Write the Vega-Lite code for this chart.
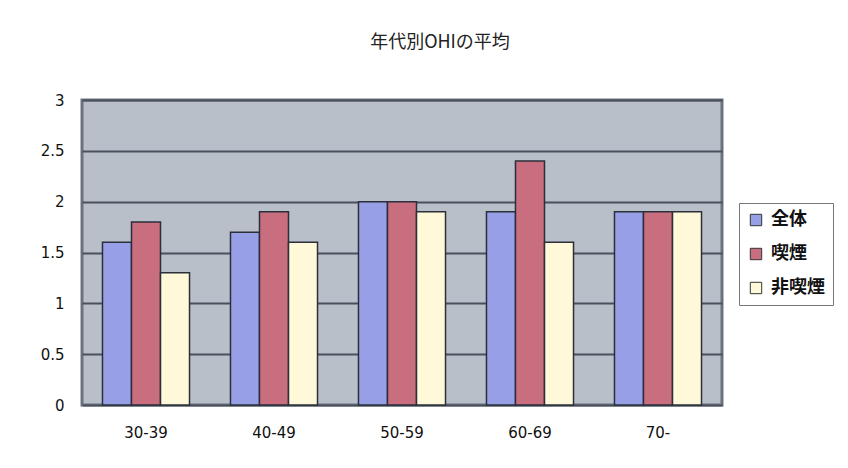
{
  "$schema": "https://vega.github.io/schema/vega-lite/v6.json",
  "autosize": "none",
  "width": 640,
  "height": 305,
  "padding": {"left": 82, "top": 100, "right": 126, "bottom": 63},
  "background": "white",
  "title": {
    "text": "年代別OHIの平均",
    "anchor": "middle",
    "dx": 38,
    "offset": 41,
    "fontSize": 18,
    "fontWeight": "normal",
    "font": "Noto Sans CJK JP",
    "color": "#222222"
  },
  "data": {
    "values": [
      {"age": "30-39", "group": "全体", "value": 1.6},
      {"age": "30-39", "group": "喫煙", "value": 1.8},
      {"age": "30-39", "group": "非喫煙", "value": 1.3},
      {"age": "40-49", "group": "全体", "value": 1.7},
      {"age": "40-49", "group": "喫煙", "value": 1.9},
      {"age": "40-49", "group": "非喫煙", "value": 1.6},
      {"age": "50-59", "group": "全体", "value": 2.0},
      {"age": "50-59", "group": "喫煙", "value": 2.0},
      {"age": "50-59", "group": "非喫煙", "value": 1.9},
      {"age": "60-69", "group": "全体", "value": 1.9},
      {"age": "60-69", "group": "喫煙", "value": 2.4},
      {"age": "60-69", "group": "非喫煙", "value": 1.6},
      {"age": "70-", "group": "全体", "value": 1.9},
      {"age": "70-", "group": "喫煙", "value": 1.9},
      {"age": "70-", "group": "非喫煙", "value": 1.9}
    ]
  },
  "mark": {"type": "bar", "stroke": "#2a2f3a", "strokeWidth": 1.5},
  "encoding": {
    "x": {
      "field": "age",
      "type": "nominal",
      "sort": null,
      "scale": {"paddingInner": 0.32, "paddingOuter": 0.16},
      "axis": {
        "title": null,
        "labelAngle": 0,
        "labelFontSize": 15,
        "labelFont": "DejaVu Sans",
        "labelColor": "#111111",
        "labelPadding": 20,
        "ticks": false,
        "domain": false
      }
    },
    "xOffset": {"field": "group", "type": "nominal", "sort": ["全体", "喫煙", "非喫煙"]},
    "y": {
      "field": "value",
      "type": "quantitative",
      "scale": {"domain": [0, 3], "nice": false},
      "axis": {
        "title": null,
        "values": [0, 0.5, 1, 1.5, 2, 2.5, 3],
        "format": "~g",
        "labelFontSize": 15,
        "labelFont": "DejaVu Sans",
        "labelColor": "#111111",
        "labelPadding": 18,
        "ticks": false,
        "domain": false,
        "gridColor": "#4a515c",
        "gridWidth": 2,
        "gridOpacity": 1
      }
    },
    "color": {
      "field": "group",
      "type": "nominal",
      "sort": ["全体", "喫煙", "非喫煙"],
      "scale": {"domain": ["全体", "喫煙", "非喫煙"], "range": ["#97a0e6", "#c96e7e", "#fff9da"]},
      "legend": {
        "title": null,
        "orient": "none",
        "legendX": 657,
        "legendY": 103,
        "symbolType": "square",
        "symbolSize": 130,
        "symbolStrokeColor": "#333333",
        "symbolStrokeWidth": 1,
        "labelFontSize": 18,
        "labelFontWeight": "bold",
        "labelFont": "Noto Sans CJK JP",
        "labelColor": "#111111",
        "labelOffset": 6,
        "rowPadding": 16,
        "padding": 8,
        "strokeColor": "#777777",
        "fillColor": "white"
      }
    }
  },
  "config": {
    "view": {"fill": "#b9bfc9", "stroke": "#6c727c", "strokeWidth": 3}
  }
}
